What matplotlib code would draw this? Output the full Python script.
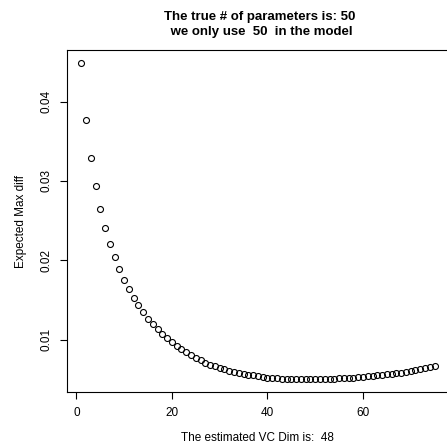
import numpy as np
import matplotlib
matplotlib.use("Agg")
import matplotlib.pyplot as plt

plt.rcParams['font.family'] = ['Liberation Sans', 'DejaVu Sans']

# model dimension vs. expected max difference
dims = list(range(1, 76))
max_diff = [
    0.0449, 0.0377, 0.0329, 0.02936, 0.0265, 0.0241, 0.0221, 0.0204, 0.01888, 0.01753,
    0.01635, 0.01525, 0.01433, 0.01345, 0.01265, 0.01193, 0.0113, 0.0107, 0.0102, 0.0097,
    0.0092, 0.00878, 0.0084, 0.0080, 0.00768, 0.00739, 0.0071, 0.00684, 0.00663, 0.00642,
    0.00625, 0.00609, 0.00596, 0.00583, 0.0057, 0.00560, 0.00549, 0.00538, 0.00529, 0.00521,
    0.00515, 0.00510, 0.00506, 0.00503, 0.00501, 0.00500, 0.00499, 0.00499, 0.00499, 0.00500,
    0.00501, 0.00503, 0.00505, 0.00507, 0.00510, 0.00513, 0.00516, 0.00520, 0.00524, 0.00530,
    0.00536, 0.00542, 0.00548, 0.00555, 0.00562, 0.00569, 0.00577, 0.00585, 0.00593, 0.00602,
    0.00612, 0.00625, 0.00638, 0.00652, 0.00668,
]
true_p = 50
used_p = 50
vc_dim = 48

x_ticks = [0, 20, 40, 60]
y_ticks = [0.01, 0.02, 0.03, 0.04]

fig = plt.figure(figsize=(4.47, 4.48), dpi=100)
ax = fig.add_axes([0.15, 0.125, 0.85, 0.763])

ax.plot(dims, max_diff, linestyle='none', marker='o', markerfacecolor='none',
        markeredgecolor='black', markersize=4.3, markeredgewidth=0.8)

# R-like 4% padding; the right side runs off the page
xr = max(dims) - min(dims)
yr = max(max_diff) - min(max_diff)
ax.set_xlim(min(dims) - 0.04 * xr, 77.6)
ax.set_ylim(min(max_diff) - 0.04 * yr, max(max_diff) + 0.04 * yr)

ax.set_xticks(x_ticks, [str(t) for t in x_ticks])
ax.set_yticks(y_ticks, ['%.2f' % t for t in y_ticks])
ax.tick_params(axis='both', direction='out', length=5, width=0.8, labelsize=8.5, pad=5.5)
ax.tick_params(axis='y', labelrotation=90)
for lab in ax.get_yticklabels():
    lab.set_va('center')
ax.spines['right'].set_visible(False)
for s in ax.spines.values():
    s.set_linewidth(0.8)

ax.set_xlabel('The estimated VC Dim is:  %d' % vc_dim, fontsize=8.5, labelpad=10)
ax.set_ylabel('Expected Max diff', fontsize=8.5, labelpad=10)
ax.set_title('The true # of parameters is: %d\n we only use  %d  in the model' % (true_p, used_p),
             fontsize=9.5, fontweight='bold', pad=11, linespacing=1.3, x=0.507)

fig.savefig('out.png', dpi=100)
